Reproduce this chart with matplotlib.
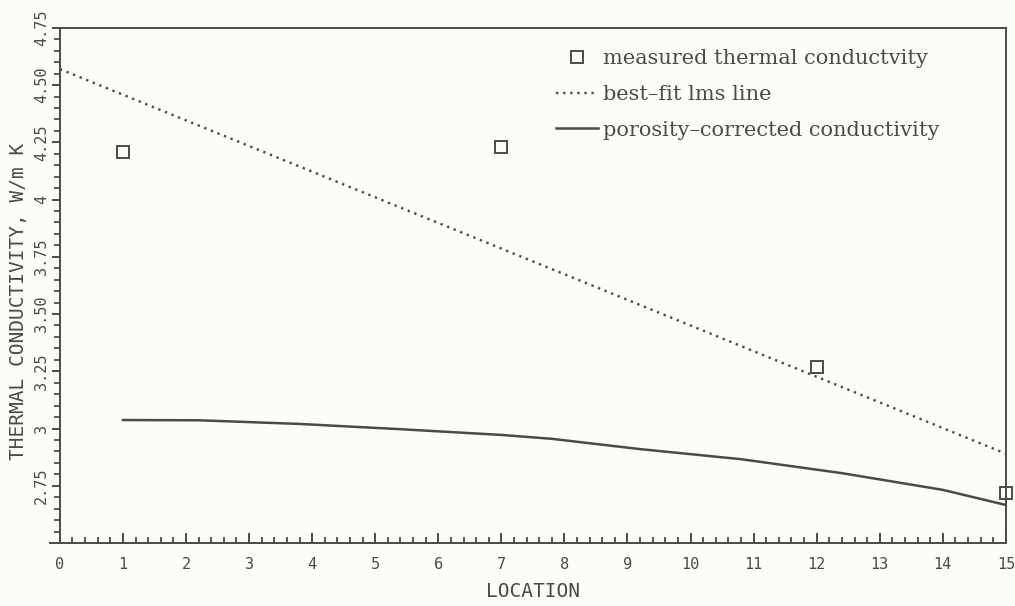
import matplotlib.pyplot as plt
from matplotlib.lines import Line2D
from matplotlib.ticker import FixedLocator, MultipleLocator

# measured points
loc_meas = [1, 7, 12, 15]
k_meas = [4.21, 4.23, 3.27, 2.72]

# best-fit lms line (endpoints)
loc_fit = [0, 15]
k_fit = [4.57, 2.89]

# porosity-corrected conductivity curve
loc_corr = [1, 2.2, 3.8, 5.4, 7.0, 7.8, 9.2, 10.8, 12.4, 14.0, 15]
k_corr = [3.037, 3.036, 3.02, 2.997, 2.972, 2.955, 2.91, 2.866, 2.805, 2.732, 2.666]

ytick_vals = [2.75, 3, 3.25, 3.5, 3.75, 4, 4.25, 4.5, 4.75]
ytick_labels = ['2.75', '3', '3.25', '3.50', '3.75', '4', '4.25', '4.50', '4.75']

bg = '#fdfcf6'
ink = '#4a4a48'
mono = 'DejaVu Sans Mono'

fig = plt.figure(figsize=(10.15, 6.06), dpi=100, facecolor=bg)
ax = fig.add_axes([0.059, 0.104, 0.932, 0.850], facecolor=bg)

ax.plot(loc_meas, k_meas, linestyle='none', marker='s', markersize=8,
        markerfacecolor='none', markeredgecolor=ink, markeredgewidth=1.4,
        label='measured thermal conductvity', clip_on=False, zorder=5)
ax.plot(loc_fit, k_fit, linestyle=(0, (1, 2)), color=ink, linewidth=1.7,
        label='best\u2013fit lms line')
ax.plot(loc_corr, k_corr, linestyle='-', color=ink, linewidth=1.8,
        label='porosity\u2013corrected conductivity')

ax.set_xlim(0, 15)
ax.set_ylim(2.5, 4.75)

ax.xaxis.set_major_locator(MultipleLocator(1))
ax.xaxis.set_minor_locator(MultipleLocator(0.2))
ax.yaxis.set_major_locator(FixedLocator(ytick_vals))
ax.set_yticklabels(ytick_labels)
ax.yaxis.set_minor_locator(MultipleLocator(0.05))

ax.tick_params(axis='x', which='major', direction='in', length=7, width=1.4,
               colors=ink, labelsize=11, pad=10)
ax.tick_params(axis='x', which='minor', direction='in', length=4, width=1.3, colors=ink)
ax.tick_params(axis='y', which='major', direction='out', length=6, width=1.4,
               colors=ink, labelsize=11, pad=2)
ax.tick_params(axis='y', which='minor', direction='out', length=4, width=1.3, colors=ink)
ax.tick_params(top=False, right=False, which='both')

for lbl in ax.get_yticklabels():
    lbl.set_rotation(90)
    lbl.set_va('center')
    lbl.set_family(mono)
for lbl in ax.get_xticklabels():
    lbl.set_family(mono)

for s in ax.spines.values():
    s.set_color(ink)
    s.set_linewidth(1.4)

# small stub of the x axis beyond the origin, as on the plotter output
ax.add_line(Line2D([-0.01, 0], [0, 0], transform=ax.transAxes, color=ink,
                   linewidth=1.4, clip_on=False))

ax.set_xlabel('LOCATION', family=mono, fontsize=14, color=ink, labelpad=7)
ax.set_ylabel('THERMAL CONDUCTIVITY, W/m K', family=mono, fontsize=14,
              color=ink)
ax.yaxis.set_label_coords(-0.034, 0.47)

leg = ax.legend(loc='upper left', bbox_to_anchor=(0.505, 0.995), frameon=False,
                prop={'family': 'DejaVu Serif', 'size': 15},
                handlelength=2.0, handletextpad=0.25, labelspacing=0.8)
for t in leg.get_texts():
    t.set_color(ink)

fig.savefig('out.png', dpi=100, facecolor=bg)
